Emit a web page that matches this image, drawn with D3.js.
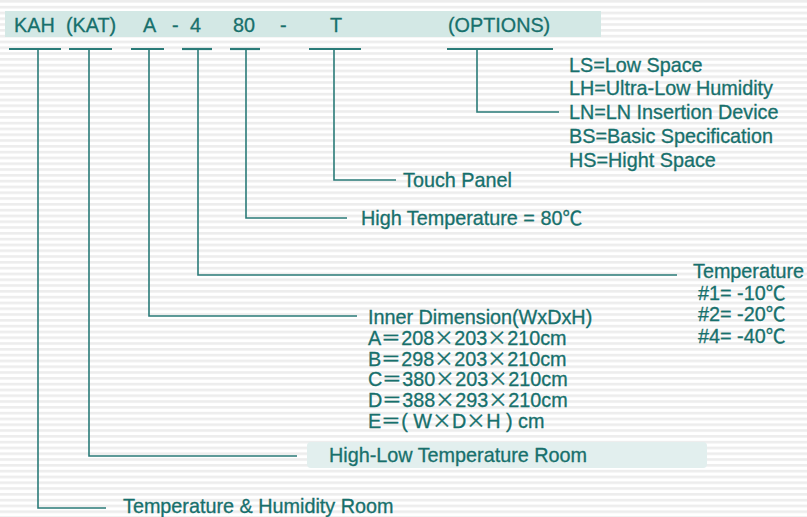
<!DOCTYPE html>
<html><head><meta charset="utf-8">
<script src="https://cdn.jsdelivr.net/npm/d3@7"></script>
<style>
@font-face{font-family:"WideSym";src:local("Noto Sans CJK SC"),local("NotoSansCJKsc-Regular"),local("Noto Sans CJK SC Regular");unicode-range:U+00D7,U+FF1D;}
html,body{margin:0;padding:0;background:#fff;}
svg{display:block;}
text{font-family:"WideSym","Liberation Sans",Arial,"Noto Sans CJK SC",sans-serif;fill:#17706c;stroke:#17706c;stroke-width:0.3px;}
</style></head>
<body>
<svg id="c" width="807" height="517"></svg>
<script>
// ---- data ----
const codeLabels = ["KAH", "(KAT)", "A", "-", "4", "80", "-", "T", "(OPTIONS)"];
const optionsList = ["LS=Low Space", "LH=Ultra-Low Humidity", "LN=LN Insertion Device", "BS=Basic Specification", "HS=Hight Space"];
const touchList = ["Touch Panel"];
const highTempList = ["High Temperature = 80℃"];
const tempList = ["Temperature", "#1= -10℃", "#2= -20℃", "#4= -40℃"];
const dimList = ["Inner Dimension(WxDxH)", "A＝208×203×210cm", "B＝298×203×210cm", "C＝380×203×210cm", "D＝388×293×210cm", "E＝( W×D×H ) cm"];
const roomList = ["High-Low Temperature Room"];
const thList = ["Temperature & Humidity Room"];

// ---- layout ----
const codeX = [14, 66, 143, 172, 190, 233, 280, 330, 448];
const branches = [
  {code: 8, u: [447, 553], vx: 477, vy: 112, hx: 559, tx: 569, ty: 71.7, dy: 23.75, lines: optionsList},
  {code: 7, u: [309, 361], vx: 334, vy: 180, hx: 396, tx: 403, ty: 186.7, dy: 22, lines: touchList},
  {code: 5, u: [230, 260], vx: 246, vy: 218, hx: 347, tx: 361, ty: 224.5, dy: 22, lines: highTempList},
  {code: 4, u: [182, 212], vx: 198, vy: 275, hx: 677, tx: 693, ty: 278, dy: 21.7, lines: tempList, indent: 5},
  {code: 2, u: [131, 164], vx: 149, vy: 316, hx: 357, tx: 368, ty: 324, dy: 20.8, lines: dimList},
  {code: 1, u: [69, 112], vx: 89, vy: 456, hx: 297, tx: 329, ty: 462, dy: 22, lines: roomList, band: [307, 442, 400, 26]},
  {code: 0, u: [9, 61], vx: 38, vy: 508, hx: 106, tx: 123, ty: 513, dy: 22, lines: thList}
];
const lineColor = "#2a7b78";
const fs = 19.8;

const svg = d3.select("#c");
const defs = svg.append("defs");
const pat = defs.append("pattern").attr("id", "stripes").attr("patternUnits", "userSpaceOnUse")
  .attr("width", 10).attr("height", 5.8);
pat.append("rect").attr("width", 10).attr("height", 5.8).attr("fill", "#ffffff");
pat.append("rect").attr("y", 0).attr("width", 10).attr("height", 2.6).attr("fill", "#ededed");
svg.append("rect").attr("width", 807).attr("height", 517).attr("fill", "url(#stripes)");

// header band
svg.append("rect").attr("x", 5).attr("y", 11).attr("width", 596).attr("height", 26).attr("fill", "#d3e8e5");

svg.selectAll("text.code").data(codeLabels).join("text")
  .attr("class", "code")
  .attr("x", (d, i) => codeX[i]).attr("y", 31.5)
  .attr("font-size", fs)
  .text(d => d);

// lower band
branches.filter(b => b.band).forEach(b => {
  svg.append("rect").attr("x", b.band[0]).attr("y", b.band[1]).attr("width", b.band[2]).attr("height", b.band[3])
    .attr("rx", 4).attr("fill", "#e2efee");
});

const g = svg.append("g");
branches.forEach(b => {
  g.append("line").attr("x1", b.u[0]).attr("x2", b.u[1]).attr("y1", 49).attr("y2", 49)
    .attr("stroke", lineColor).attr("stroke-width", 2.2);
  g.append("path").attr("d", `M${b.vx},49V${b.vy}H${b.hx}`)
    .attr("fill", "none").attr("stroke", lineColor).attr("stroke-width", 1.6);
  g.selectAll(null).data(b.lines).join("text")
    .attr("x", (t, i) => b.tx + (i > 0 && b.indent ? b.indent : 0))
    .attr("y", (t, i) => b.ty + i * b.dy)
    .attr("font-size", fs)
    .text(t => t);
});
</script>
</body></html>
